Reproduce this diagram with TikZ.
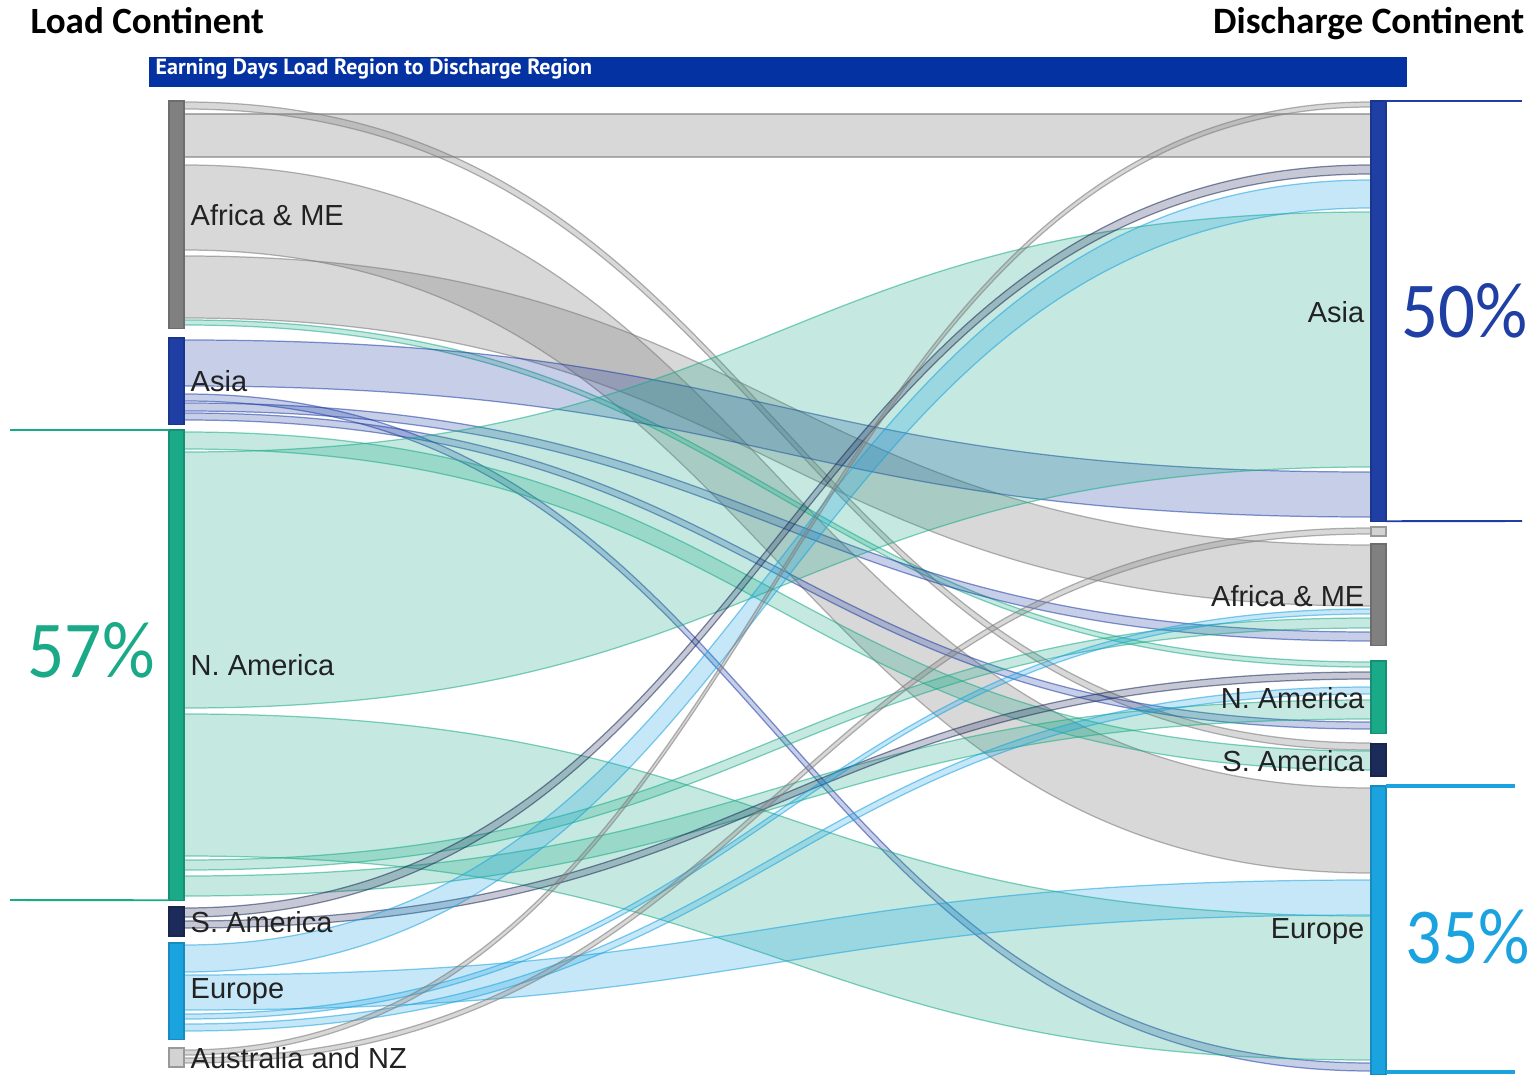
\documentclass[tikz,border=0pt]{standalone}
\usepackage{fontspec}
\usepackage{graphicx}
\setmainfont{Liberation Sans}
\newfontfamily\calib{Carlito}
\newfontfamily\barfont{PT Sans}
\definecolor{cAfr}{HTML}{808080}
\definecolor{cAsia}{HTML}{1F3FA5}
\definecolor{cNAm}{HTML}{1AAA88}
\definecolor{cSAm}{HTML}{1C2B5A}
\definecolor{cEur}{HTML}{1BA3E0}
\definecolor{cAus}{HTML}{D3D3D3}
\definecolor{cBar}{HTML}{0432A3}
\definecolor{cTxt}{HTML}{222222}
\newcommand{\skflow}[5]{%
  \path[fill=#1, fill opacity=0.25, draw=#1, draw opacity=0.55, line width=0.35pt]
    (184,#2) .. controls (777.5,#2) and (777.5,#4) .. (1371,#4)
    -- (1371,#5) .. controls (777.5,#5) and (777.5,#3) .. (184,#3) -- cycle;}
\newcommand{\skgray}[4]{%
  \path[fill=cAfr, fill opacity=0.3, draw=cAfr, draw opacity=0.6, line width=0.35pt]
    (184,#1) .. controls (777.5,#1) and (777.5,#3) .. (1371,#3)
    -- (1371,#4) .. controls (777.5,#4) and (777.5,#2) .. (184,#2) -- cycle;}
\tikzset{
  sknode/.style={rectangle, inner sep=0pt, outer sep=0pt, minimum width=0.15cm, anchor=north west, line width=0.3pt},
  lbl/.style={inner sep=0pt, text=cTxt, font=\fontsize{8.25pt}{10pt}\selectfont},
  pct/.style={inner sep=0pt}
}
\begin{document}
\begin{tikzpicture}[x=0.01cm,y=-0.01cm]
\useasboundingbox (0,0) rectangle (1539,1076);
\fill[white] (0,0) rectangle (1539,1076);

% headings
\node[anchor=base west, inner sep=0pt] (hl) at (30,34) {\resizebox{2.33cm}{!}{\calib\bfseries Load Continent}};
\node[anchor=base east, inner sep=0pt] (hr) at (1525,34) {\resizebox{3.11cm}{!}{\calib\bfseries Discharge Continent}};
\node[fill=cBar, minimum width=12.58cm, minimum height=0.30cm, anchor=north west, inner sep=0pt] (bar) at (148,56) {};
\node[anchor=west, inner sep=0pt, text=white] (bartxt) at (155,69) {\resizebox{4.36cm}{!}{\barfont\bfseries Earning Days Load Region to Discharge Region}};

% flows from Africa & ME
\skgray{102}{109}{743}{750}
\skgray{114}{157}{114}{157}
\skgray{165}{250}{788}{873}
\skgray{256}{318}{545}{606}
\skflow{cNAm}{320}{325}{662}{667}
% flows from Asia
\skflow{cAsia}{340}{386}{472}{517}
\skflow{cAsia}{394}{401}{1063}{1071}
\skflow{cAsia}{403}{411}{632}{641}
\skflow{cAsia}{413}{420}{722}{729}
% flows from N. America
\skflow{cNAm}{432}{449}{751}{770}
\skflow{cNAm}{452}{708}{212}{467}
\skflow{cNAm}{714}{856}{916}{1060}
\skflow{cNAm}{860}{870}{618}{628}
\skflow{cNAm}{876}{896}{700}{719}
% flows from S. America
\skflow{cSAm}{908}{917}{165}{174}
\skflow{cSAm}{921}{928}{672}{679}
% flows from Europe
\skflow{cEur}{945}{972}{180}{208}
\skflow{cEur}{975}{1010}{880}{915}
\skflow{cEur}{1014}{1019}{609}{614}
\skflow{cEur}{1024}{1031}{687}{694}
% flows from Australia and NZ
\skgray{1050}{1055}{102}{107}
\skgray{1058}{1063}{528}{534}

% left nodes
\node[sknode, fill=cAfr, draw=cAfr!85!black, minimum height=2.27cm] (LAfr) at (169,101) {};
\node[sknode, fill=cAsia, draw=cAsia!85!black, minimum height=0.86cm] (LAsia) at (169,338) {};
\node[sknode, fill=cNAm, draw=cNAm!85!black, minimum height=4.70cm] (LNAm) at (169,430) {};
\node[sknode, fill=cSAm, draw=cSAm!85!black, minimum height=0.29cm] (LSAm) at (169,907) {};
\node[sknode, fill=cEur, draw=cEur!85!black, minimum height=0.96cm] (LEur) at (169,943) {};
\node[sknode, fill=cAus, draw=gray!80, minimum height=0.19cm] (LAus) at (169,1048) {};
% right nodes
\node[sknode, fill=cAsia, draw=cAsia!85!black, minimum height=4.20cm] (RAsia) at (1371,101) {};
\node[sknode, fill=cAus, draw=gray!80, minimum height=0.09cm] (RAus) at (1371,527) {};
\node[sknode, fill=cAfr, draw=cAfr!85!black, minimum height=1.01cm] (RAfr) at (1371,544) {};
\node[sknode, fill=cNAm, draw=cNAm!85!black, minimum height=0.72cm] (RNAm) at (1371,661) {};
\node[sknode, fill=cSAm, draw=cSAm!85!black, minimum height=0.32cm] (RSAm) at (1371,744) {};
\node[sknode, fill=cEur, draw=cEur!85!black, minimum height=2.88cm] (REur) at (1371,786) {};

% left labels
\node[lbl, anchor=west] (tLAfr) at (190,215) {Africa \& ME};
\node[lbl, anchor=west] (tLAsia) at (190,381) {Asia};
\node[lbl, anchor=west] (tLNAm) at (190,665) {N. America};
\node[lbl, anchor=west] (tLSAm) at (190,922) {S. America};
\node[lbl, anchor=west] (tLEur) at (190,992) {Europe};
\node[lbl, anchor=west] (tLAus) at (190,1058) {Australia and NZ};
% right labels
\node[lbl, anchor=east] (tRAsia) at (1365,312) {Asia};
\node[lbl, anchor=east] (tRAfr) at (1365,596) {Africa \& ME};
\node[lbl, anchor=east] (tRNAm) at (1365,698) {N. America};
\node[lbl, anchor=east] (tRSAm) at (1365,761) {S. America};
\node[lbl, anchor=east] (tREur) at (1365,932) {Europe};

% brackets and percentages
\coordinate (b57a) at (10,430);
\coordinate (b57b) at (10,900);
\draw[cNAm, line width=0.55pt] (b57a) -- (LNAm.north west);
\draw[cNAm, line width=0.55pt] (b57b) -- (LNAm.south west);
\coordinate (b50a) at (1522,101);
\coordinate (b50b) at (1522,521);
\draw[cAsia, line width=0.55pt] (RAsia.north east) -- (b50a);
\draw[cAsia, line width=0.55pt] (RAsia.south east) -- (b50b);
\coordinate (b35a) at (1515,786);
\coordinate (b35c) at (1386,1072);
\coordinate (b35b) at (1515,1072);
\draw[cEur, line width=0.9pt] (REur.north east) -- (b35a);
\draw[cEur, line width=0.9pt] (b35c) -- (b35b);

\node[pct, text=cNAm] (p57) at (91,650) {\resizebox{1.27cm}{0.55cm}{\calib 57\%}};
\node[pct, text=cAsia] (p50) at (1465,311) {\resizebox{1.26cm}{0.54cm}{\calib 50\%}};
\node[pct, text=cEur] (p35) at (1468,937) {\resizebox{1.24cm}{0.54cm}{\calib 35\%}};
\end{tikzpicture}
\end{document}
